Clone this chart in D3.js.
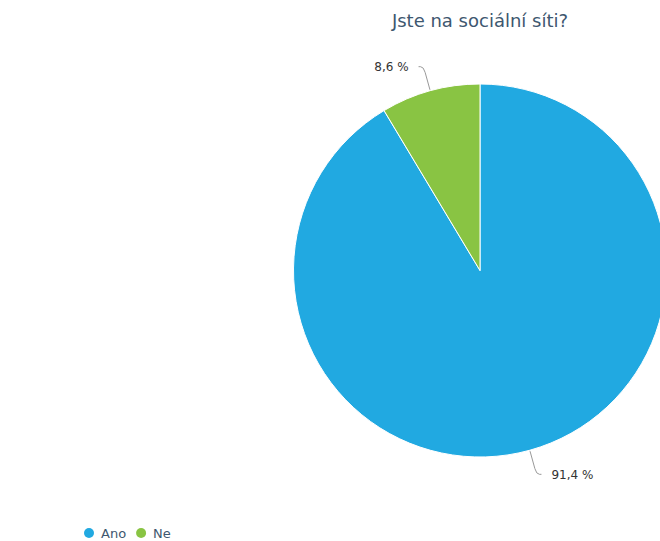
<!DOCTYPE html>
<html>
<head>
<meta charset="utf-8">
<script src="https://cdn.jsdelivr.net/npm/d3@7"></script>
<style>
  html, body { margin: 0; padding: 0; background: #fff; }
  svg { display: block; font-family: "DejaVu Sans", sans-serif; }
</style>
</head>
<body>
<svg id="chart" width="660" height="541"></svg>
<script>
// Survey answers and their shares (percent)
const categories = ["Ano", "Ne"];
const shares = [91.4, 8.6];
const sliceColors = ["#21a9e1", "#89c443"];
const chartTitle = "Jste na sociální síti?";

const svg = d3.select("#chart");
const cx = 480, cy = 270.5, radius = 186.5;

// Title
svg.append("text")
  .attr("x", cx)
  .attr("y", 27)
  .attr("text-anchor", "middle")
  .attr("fill", "#3e576f")
  .style("font-size", "18px")
  .text(chartTitle);

const data = categories.map((c, i) => ({ name: c, value: shares[i], color: sliceColors[i] }));

const pie = d3.pie().sort(null).value(d => d.value);
const arcs = pie(data);
const arc = d3.arc().innerRadius(0).outerRadius(radius);

const g = svg.append("g").attr("transform", `translate(${cx},${cy})`);

g.selectAll("path.slice")
  .data(arcs)
  .join("path")
  .attr("class", "slice")
  .attr("d", arc)
  .attr("fill", d => d.data.color)
  .attr("stroke", "#fff")
  .attr("stroke-width", 1)
  .attr("stroke-linejoin", "round");

// Data labels with curved connectors
const fmt = v => d3.format(".1f")(v).replace(".", ",") + " %";
const labelDistance = 25;

arcs.forEach(a => {
  const mid = (a.startAngle + a.endAngle) / 2;
  const sx = Math.sin(mid), sy = -Math.cos(mid);
  const left = sx < 0;
  const ex = sx * (radius + 1), ey = sy * (radius + 1);
  // elbow beyond the rim, then a short horizontal run toward the label
  const ox = sx * (radius + labelDistance), oy = sy * (radius + labelDistance);
  const dir = left ? -1 : 1;
  const lx = ox + dir * 5;
  const path = d3.path();
  path.moveTo(ex, ey);
  path.lineTo(ox - sx * 6, oy - sy * 6);
  path.quadraticCurveTo(ox, oy, ox + dir * 3, oy);
  path.lineTo(lx, oy);
  g.append("path")
    .attr("d", path.toString())
    .attr("fill", "none")
    .attr("stroke", "#999")
    .attr("stroke-width", 1);
  g.append("text")
    .attr("x", lx + dir * 10)
    .attr("y", oy)
    .attr("dy", "0.35em")
    .attr("text-anchor", left ? "end" : "start")
    .attr("fill", "#333")
    .style("font-size", "12px")
    .text(fmt(a.data.value));
});

// Legend
const legend = svg.append("g").attr("transform", "translate(89,533)");
let itemX = 0;
data.forEach(d => {
  const item = legend.append("g").attr("transform", `translate(${itemX},0)`);
  item.append("circle").attr("r", 5).attr("fill", d.color);
  const t = item.append("text")
    .attr("x", 12)
    .attr("dy", "0.35em")
    .attr("fill", "#3e576f")
    .style("font-size", "13px")
    .text(d.name);
  itemX += 12 + t.node().getComputedTextLength() + 15;
});
</script>
</body>
</html>
